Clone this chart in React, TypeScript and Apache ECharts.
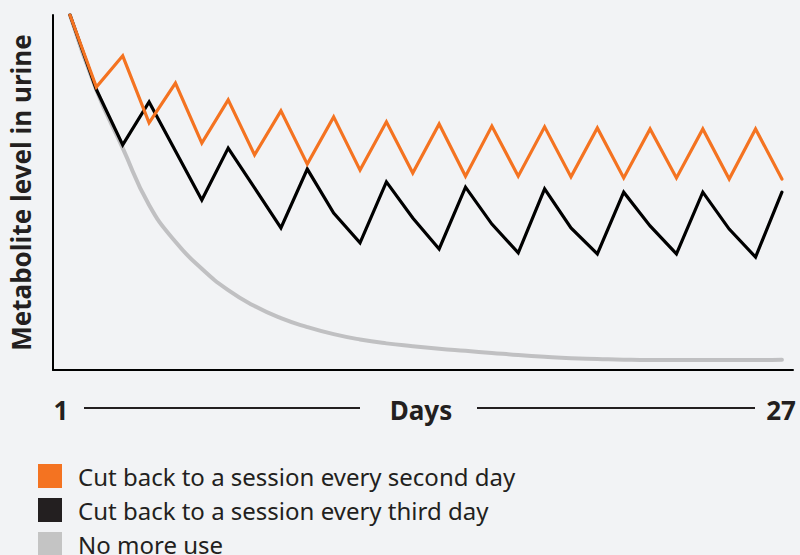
import React, { useEffect, useRef } from "react";
import * as echarts from "echarts";

// step index along the Days axis (28 sampled points)
const steps = [0, 1, 2, 3, 4, 5, 6, 7, 8, 9, 10, 11, 12, 13, 14, 15, 16, 17, 18, 19, 20, 21, 22, 23, 24, 25, 26, 27];

const everySecondDay = [
  100, 79.7, 88.5, 69.6, 80.8, 63.9, 76.1, 60.6, 73.0, 58.0, 71.3, 56.3, 69.9, 55.5,
  69.3, 54.6, 68.7, 54.6, 68.5, 54.4, 68.2, 54.1, 67.9, 54.1, 67.9, 53.8, 67.9, 53.8,
];

const everyThirdDay = [
  100, 79.0, 63.4, 75.5, 61.7, 47.9, 62.5, 51.3, 40.0, 56.6, 44.2, 35.8, 53.0, 42.8,
  34.1, 51.5, 41.1, 33.0, 51.0, 40.0, 32.7, 50.1, 40.6, 32.7, 50.1, 39.7, 31.8, 50.1,
];

const noMoreUse = [
  100, 78.9, 62.5, 46.5, 36.1, 28.5, 22.5, 18.0, 14.6, 12.1, 10.1, 8.6, 7.5, 6.7,
  6.0, 5.4, 4.8, 4.2, 3.7, 3.3, 3.1, 2.9, 2.8, 2.8, 2.8, 2.8, 2.8, 2.9,
];

const seriesNames = [
  "Cut back to a session every second day",
  "Cut back to a session every third day",
  "No more use",
];
const seriesColors = ["#f47321", "#000000", "#c0c0c2"];
const legendColors = ["#f47321", "#231f20", "#c4c4c4"];

const xTickLabels = ["1", "27"];
const xAxisTitle = "Days";
const yAxisTitle = "Metabolite level in urine";

const INK = "#231f20";
const BG = "#f2f3f5";
const FONT = "'Noto Sans', 'Open Sans', sans-serif";

export default function App() {
  const ref = useRef<HTMLDivElement>(null);

  useEffect(() => {
    document.body.style.margin = "0";
    document.body.style.background = BG;
    const chart = echarts.init(ref.current as HTMLDivElement, null, { renderer: "svg" });
    const toPairs = (vals: number[]) => steps.map((s, i) => [s, vals[i]]);
    const lineSeries = (idx: number, vals: number[], width: number, smooth: boolean, z: number) => ({
      type: "line",
      name: seriesNames[idx],
      data: toPairs(vals),
      showSymbol: false,
      smooth: smooth ? true : false,
      color: legendColors[idx],
      itemStyle: { color: legendColors[idx] },
      lineStyle: { color: seriesColors[idx], width, cap: "round", join: "miter" },
      z,
    });

    const tickStyle = { fontFamily: FONT, fontSize: 26, fontWeight: "bold", fill: INK };

    chart.setOption({
      animation: false,
      backgroundColor: BG,
      textStyle: { fontFamily: FONT },
      grid: { left: 52, top: 15, right: 7, bottom: 185 },
      xAxis: {
        type: "value",
        min: -0.644,
        max: 27.42,
        axisLine: { show: true, onZero: false, lineStyle: { color: "#000", width: 2 } },
        axisTick: { show: false },
        axisLabel: { show: false },
        splitLine: { show: false },
      },
      yAxis: {
        type: "value",
        min: 0,
        max: 100,
        axisLine: { show: true, onZero: false, lineStyle: { color: "#000", width: 2 } },
        axisTick: { show: false },
        axisLabel: { show: false },
        splitLine: { show: false },
        name: yAxisTitle,
        nameLocation: "middle",
        nameRotate: 90,
        nameGap: 19,
        nameTextStyle: { fontFamily: FONT, fontSize: 26, fontWeight: "bold", color: INK },
      },
      legend: {
        orient: "vertical",
        left: 38,
        top: 464,
        height: 200,
        padding: 0,
        itemWidth: 24,
        itemHeight: 24,
        itemGap: 10,
        icon: "rect",
        selectedMode: false,
        data: seriesNames,
        itemStyle: { borderWidth: 0 },
        textStyle: { fontFamily: FONT, fontSize: 24, color: INK, lineHeight: 20, padding: [0, 0, 0, 11] },
      },
      series: [
        lineSeries(2, noMoreUse, 4, true, 1),
        lineSeries(1, everyThirdDay, 3.2, false, 2),
        lineSeries(0, everySecondDay, 3.2, false, 3),
      ],
      graphic: [
        { type: "text", x: 61, y: 410, style: { ...tickStyle, text: xTickLabels[0], align: "center", verticalAlign: "middle" } },
        { type: "line", shape: { x1: 84, y1: 408, x2: 360, y2: 408 }, style: { stroke: INK, lineWidth: 2 } },
        { type: "text", x: 421, y: 410, style: { ...tickStyle, text: xAxisTitle, align: "center", verticalAlign: "middle" } },
        { type: "line", shape: { x1: 477, y1: 408, x2: 755, y2: 408 }, style: { stroke: INK, lineWidth: 2 } },
        { type: "text", x: 781, y: 410, style: { ...tickStyle, text: xTickLabels[1], align: "center", verticalAlign: "middle" } },
      ],
    });
    return () => chart.dispose();
  }, []);

  return (
    <div
      ref={ref}
      style={{ position: "fixed", left: 0, top: 0, width: 800, height: 555, background: BG }}
    />
  );
}
